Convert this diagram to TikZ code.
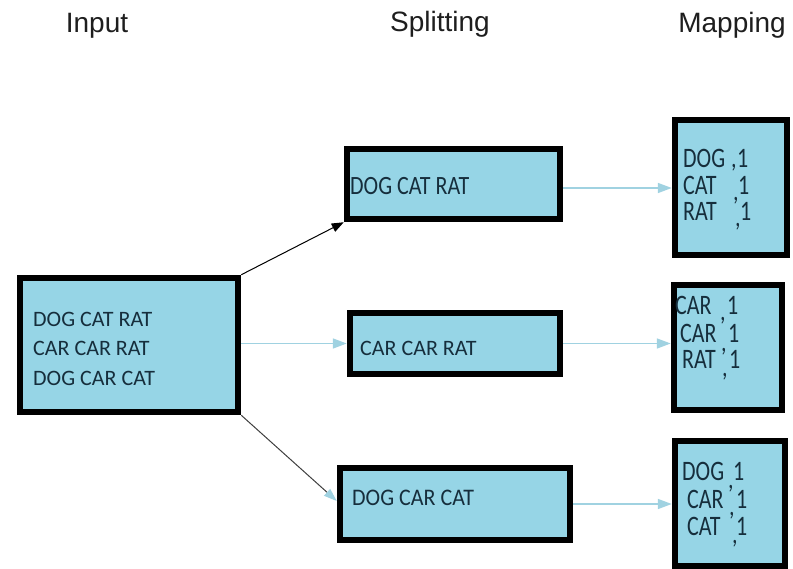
\documentclass[tikz,border=0pt]{standalone}
\usepackage{fontspec}
\setmainfont{Liberation Sans}
\newfontfamily\boxfont{Carlito}
\usetikzlibrary{arrows.meta}

\definecolor{boxfill}{RGB}{150,213,230}
\definecolor{boxtext}{RGB}{22,46,60}
\definecolor{flowblue}{RGB}{160,210,225}
\definecolor{headtext}{RGB}{30,30,30}

\tikzset{
  box/.style={draw=black, line width=6.5pt, fill=boxfill, inner sep=0pt},
  head/.style={font=\fontsize{28}{30}\selectfont, text=headtext, anchor=base, inner sep=0pt},
  word/.style={font=\boxfont\fontsize{22}{24}\selectfont, text=boxtext, anchor=base west, inner sep=0pt},
  blueflow/.style={draw=flowblue, line width=1.6pt, -{Triangle[length=14pt,width=10pt]}},
  blackflow/.style={draw=black, line width=1pt, -{Triangle[length=12pt,width=9pt]}},
  mixflow/.style={draw=black!75, line width=1pt, -{Triangle[length=13pt,width=9pt,color=flowblue]}}
}

% tall, narrow lettering used in the result boxes
\newcommand{\tallw}[1]{\scalebox{1}[1.28]{#1}}

\begin{document}
\begin{tikzpicture}[x=1pt,y=-1pt]
\useasboundingbox (0,0) rectangle (793,569);
\fill[white] (0,0) rectangle (793,569);

% column headings
\node[head] (hinput) at (97,33) {Input};
\node[head] (hsplit) at (440,32) {Splitting};
\node[head] (hmap)   at (732,33) {Mapping};

% boxes
\node[box, minimum width=218pt, minimum height=134pt] (input)  at (129,345)   {};
\node[box, minimum width=213pt, minimum height=70pt]  (split1) at (453.5,184) {};
\node[box, minimum width=210pt, minimum height=61pt]  (split2) at (455,343.5) {};
\node[box, minimum width=230pt, minimum height=72pt]  (split3) at (455,504)   {};
\node[box, minimum width=112pt, minimum height=135pt] (map1)   at (731,187.5) {};
\node[box, minimum width=108pt, minimum height=125pt] (map2)   at (728,347.5) {};
\node[box, minimum width=110pt, minimum height=125pt] (map3)   at (730,503.5) {};

% input lines
\node[word] (in1) at (33,327) {DOG CAT RAT};
\node[word] (in2) at (33,356) {CAR CAR RAT};
\node[word] (in3) at (33,385) {DOG CAR CAT};

% split lines
\node[word] (sp1) at (350,195) {\scalebox{1}[1.2]{DOG CAT RAT}};
\node[word] (sp2) at (360,356) {CAR CAR RAT};
\node[word] (sp3) at (352,505) {\scalebox{1}[1.08]{DOG CAR CAT}};

% first result box
\node[word] (m1a) at (683,168) {\tallw{DOG}};
\node[word] (m1ac) at (731,168) {\tallw{,}};
\node[word] (m1an) at (737,168) {\tallw{1}};
\node[word] (m1b) at (683,195) {\tallw{CAT}};
\node[word] (m1bc) at (733,201) {\tallw{,}};
\node[word] (m1bn) at (738,195) {\tallw{1}};
\node[word] (m1c) at (683,221) {\tallw{RAT}};
\node[word] (m1cc) at (735,227) {\tallw{,}};
\node[word] (m1cn) at (740,221) {\tallw{1}};

% second result box
\node[word] (m2a) at (675,315) {\tallw{CAR}};
\node[word] (m2ac) at (720,321) {\tallw{,}};
\node[word] (m2an) at (727,315) {\tallw{1}};
\node[word] (m2b) at (680,343) {\tallw{CAR}};
\node[word] (m2bc) at (721,352) {\tallw{,}};
\node[word] (m2bn) at (728,343) {\tallw{1}};
\node[word] (m2c) at (682,369) {\tallw{RAT}};
\node[word] (m2cc) at (722,377) {\tallw{,}};
\node[word] (m2cn) at (729,369) {\tallw{1}};

% third result box
\node[word] (m3a) at (682,480) {\tallw{DOG}};
\node[word] (m3ac) at (728,488) {\tallw{,}};
\node[word] (m3an) at (733,480) {\tallw{1}};
\node[word] (m3b) at (687,508) {\tallw{CAR}};
\node[word] (m3bc) at (729,515) {\tallw{,}};
\node[word] (m3bn) at (736,508) {\tallw{1}};
\node[word] (m3c) at (687,535) {\tallw{CAT}};
\node[word] (m3cc) at (732,543) {\tallw{,}};
\node[word] (m3cn) at (736,535) {\tallw{1}};

% input to splitting
\draw[blackflow] (input.north east) -- (split1.south west);
\draw[blueflow] (split2.west -| input.east) -- (split2.west);
\draw[mixflow] (input.south east) -- ([yshift=3pt]split3.west);

% splitting to mapping
\draw[blueflow] ([yshift=-4pt]split1.east) -- ([yshift=-4pt]split1.east -| map1.west);
\draw[blueflow] (split2.east) -- (split2.east -| map2.west);
\draw[blueflow] (split3.east) -- (split3.east -| map3.west);
\end{tikzpicture}
\end{document}
